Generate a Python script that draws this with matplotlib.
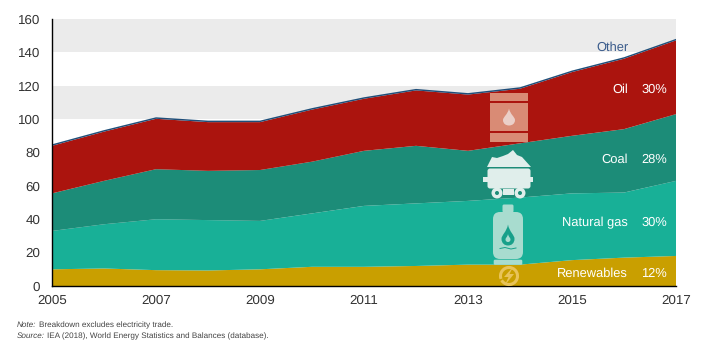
import matplotlib
matplotlib.use('Agg')
import matplotlib.pyplot as plt
from matplotlib.patches import Rectangle, FancyBboxPatch, Polygon, Circle, Arc, PathPatch
from matplotlib.path import Path
import numpy as np

plt.rcParams['font.family'] = ['Liberation Sans', 'DejaVu Sans']
plt.rcParams['text.hinting'] = 'none'

# --- data ---
years = [2005, 2006, 2007, 2008, 2009, 2010, 2011, 2012, 2013, 2014, 2015, 2016, 2017]
renewables = [10, 10.5, 9.5, 9.3, 10, 11.5, 11.5, 12, 12.8, 12.8, 15.5, 17, 18]
gas = [23, 26.5, 30.5, 30.2, 29, 32, 36.5, 37.5, 38.2, 40.2, 40, 39, 45]
coal = [22.5, 26, 30, 29.5, 30.5, 31, 33, 34.5, 30, 32.5, 34.5, 38, 40]
oil = [28.5, 29.5, 30.2, 29.2, 28.7, 31.2, 31.2, 33.2, 33.7, 32.7, 38.2, 42.2, 44.2]
other = [0.9, 0.9, 0.9, 0.9, 0.9, 0.9, 0.9, 0.9, 0.9, 0.9, 0.9, 0.9, 0.9]

xticks = [2005, 2007, 2009, 2011, 2013, 2015, 2017]
yticks = [0, 20, 40, 60, 80, 100, 120, 140, 160]
bands = [(20, 40), (60, 80), (100, 120), (140, 160)]

labels = ['Renewables', 'Natural gas', 'Coal', 'Oil']
shares = ['12%', '30%', '28%', '30%']
label_y = [7.5, 38, 76, 118]

colors = ['#C99F00', '#18B097', '#1C8C78', '#AB140E', '#1F4E79']

fig = plt.figure(figsize=(7.06, 3.51), dpi=100)
ax = fig.add_axes([52 / 706, 1 - 286 / 351, 624 / 706, 267 / 351])

for lo, hi in bands:
    ax.axhspan(lo, hi, color='#EBEBEB', lw=0, zorder=0)

ax.stackplot(years, renewables, gas, coal, oil, other, colors=colors, lw=0, zorder=2)

ax.set_xlim(2005, 2017)
ax.set_ylim(0, 160)
ax.set_xticks(xticks)
ax.set_yticks(yticks)
ax.tick_params(length=0, labelsize=9.6, labelcolor='#333333')
ax.tick_params(axis='y', pad=8.5)
ax.tick_params(axis='x', pad=6)
ax.spines['top'].set_visible(False)
ax.spines['right'].set_visible(False)
ax.spines['left'].set_linewidth(1)
ax.spines['bottom'].set_linewidth(1)

# series labels
for name, share, y in zip(labels, shares, label_y):
    ax.text(2016.08, y, name, color='white', fontsize=9.3, ha='right', va='center', zorder=5)
    ax.text(2016.83, y, share, color='white', fontsize=9.3, ha='right', va='center', zorder=5)
ax.text(2016.08, 143, 'Other', color='#3B5C8C', fontsize=9.3, ha='right', va='center', zorder=5)

# --- icons, in pixel coordinates on an overlay ---
ov = fig.add_axes([0, 0, 1, 1], zorder=6)
ov.set_xlim(0, 706)
ov.set_ylim(351, 0)
ov.axis('off')
ov.patch.set_alpha(0)


def drop(cx, cy, w, h, color):
    verts = [(cx, cy - h / 2), (cx + w * 0.1, cy - h * 0.15), (cx + w / 2, cy), (cx + w / 2, cy + h * 0.18),
             (cx + w / 2, cy + h * 0.4), (cx + w * 0.25, cy + h / 2), (cx, cy + h / 2),
             (cx - w * 0.25, cy + h / 2), (cx - w / 2, cy + h * 0.4), (cx - w / 2, cy + h * 0.18),
             (cx - w / 2, cy), (cx - w * 0.1, cy - h * 0.15), (cx, cy - h / 2)]
    codes = [Path.MOVETO] + [Path.CURVE4] * 12
    return PathPatch(Path(verts, codes), fc=color, lw=0)


# barrel
barrel = '#D98B75'
ov.add_patch(Rectangle((490, 93), 38, 8, fc=barrel, lw=0))
ov.add_patch(Rectangle((490, 103), 38, 28, fc=barrel, lw=0))
ov.add_patch(Rectangle((490, 133), 38, 9, fc=barrel, lw=0))
ov.add_patch(drop(509, 117, 12, 17, '#EBCFC8'))

# coal cart
cart = '#E0EEEB'
ov.add_patch(Polygon([(487, 167), (492, 157), (497, 158), (503, 156), (508, 154), (513, 150), (517, 155),
                      (522, 157), (531, 167)], fc=cart, lw=0))
ov.add_patch(FancyBboxPatch((490, 171), 38, 15, boxstyle='round,pad=2.5', fc=cart, lw=0))
ov.add_patch(Rectangle((483, 177), 50, 5, fc=cart, lw=0))
ov.add_patch(Rectangle((503, 189), 11, 6, fc=cart, lw=0))
for wx in (497, 520):
    ov.add_patch(Circle((wx, 193), 5.5, fc=cart, lw=0))
    ov.add_patch(Circle((wx, 193), 2, fc='#1C8C78', lw=0))

# gas bottle
bottle = '#A8DCCF'
ov.add_patch(FancyBboxPatch((504, 206), 8, 5, boxstyle='round,pad=1.5', fc=bottle, lw=0))
ov.add_patch(FancyBboxPatch((500, 219), 16, 33, boxstyle='round,pad=7', fc=bottle, lw=0))
ov.add_patch(FancyBboxPatch((495, 261), 26, 2.5, boxstyle='round,pad=1.3', fc=bottle, lw=0))
ov.add_patch(drop(508, 235, 13, 21, '#18A08A'))
ov.add_patch(drop(508, 238, 5, 8, bottle))
ov.plot([500, 505, 511, 516], [248.5, 247.5, 249, 248], color='#18A08A', lw=0.7)

# renewables symbol
ren = '#E8C35A'
ov.add_patch(Arc((509, 276), 17, 17, theta1=-200, theta2=150, color=ren, lw=2.2))
ov.add_patch(Polygon([(513, 267), (504, 277), (508.5, 277), (505, 285), (514, 274), (509.5, 274)], fc=ren, lw=0))

# footnotes
ax_note = dict(fontsize=5.85, color='#444444', va='center')
fig.text(17 / 706, 1 - 325 / 351, 'Note:', style='italic', **ax_note)
fig.text(39 / 706, 1 - 325 / 351, 'Breakdown excludes electricity trade.', **ax_note)
fig.text(17 / 706, 1 - 336 / 351, 'Source:', style='italic', **ax_note)
fig.text(47 / 706, 1 - 336 / 351, 'IEA (2018), World Energy Statistics and Balances (database).', **ax_note)

fig.savefig('out.png', dpi=100)
